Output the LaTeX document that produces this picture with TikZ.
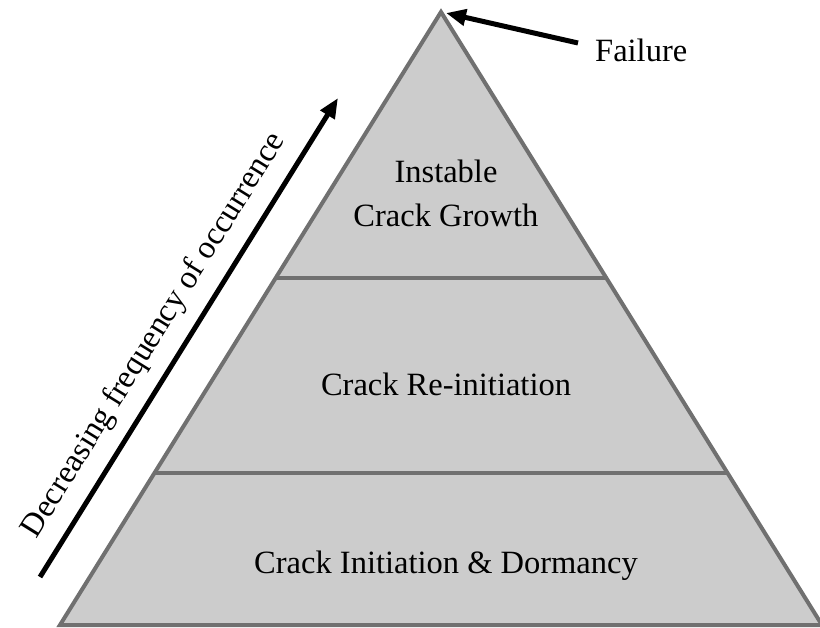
\documentclass[tikz,border=0pt]{standalone}
\usepackage{fontspec}
\setmainfont{Liberation Serif}
\usetikzlibrary{arrows.meta,calc}
\definecolor{pyrfill}{HTML}{CCCCCC}
\definecolor{pyrline}{HTML}{707070}
\tikzset{
  lbl/.style={font=\fontsize{32.5}{44}\selectfont, align=center, inner sep=0pt},
  bigarrow/.style={line width=5pt, -{Triangle[length=20pt,width=16pt]}},
}
\begin{document}
\begin{tikzpicture}[x=1pt,y=-1pt]
\useasboundingbox (0,0) rectangle (820,628);
% pyramid
\coordinate (apex) at (441,12);
\coordinate (bl) at (60,625);
\coordinate (br) at (822,625);
\filldraw[fill=pyrfill, draw=pyrline, line width=4pt, line join=miter] (apex) -- (br) -- (bl) -- cycle;
\coordinate (l1) at ($(apex)!0.4344!(bl)$);
\coordinate (r1) at ($(apex)!0.4344!(br)$);
\coordinate (l2) at ($(apex)!0.7520!(bl)$);
\coordinate (r2) at ($(apex)!0.7520!(br)$);
\draw[pyrline, line width=4pt] (l1) -- (r1);
\draw[pyrline, line width=4pt] (l2) -- (r2);
% labels
\node[lbl, anchor=base] (top) at (446,227) {Instable\\Crack Growth};
\node[lbl, anchor=base] (mid) at (446,396) {Crack Re-initiation};
\node[lbl, anchor=base] (bot) at (446,573) {Crack Initiation \& Dormancy};
\node[lbl, anchor=base west] (fail) at (595,62) {Failure};
% arrows
\coordinate (ftail) at (578,43);
\coordinate (fhead) at (446,13);
\draw[bigarrow] (ftail) -- (fhead);
\coordinate (atail) at (40,577);
\coordinate (ahead) at (338,98);
\draw[bigarrow] (atail) -- (ahead);
\node[lbl, rotate=58.1, anchor=base] (freq) at ($(atail)!0.47!(ahead) + (-19,-12)$) {Decreasing frequency of occurrence};
\end{tikzpicture}
\end{document}
